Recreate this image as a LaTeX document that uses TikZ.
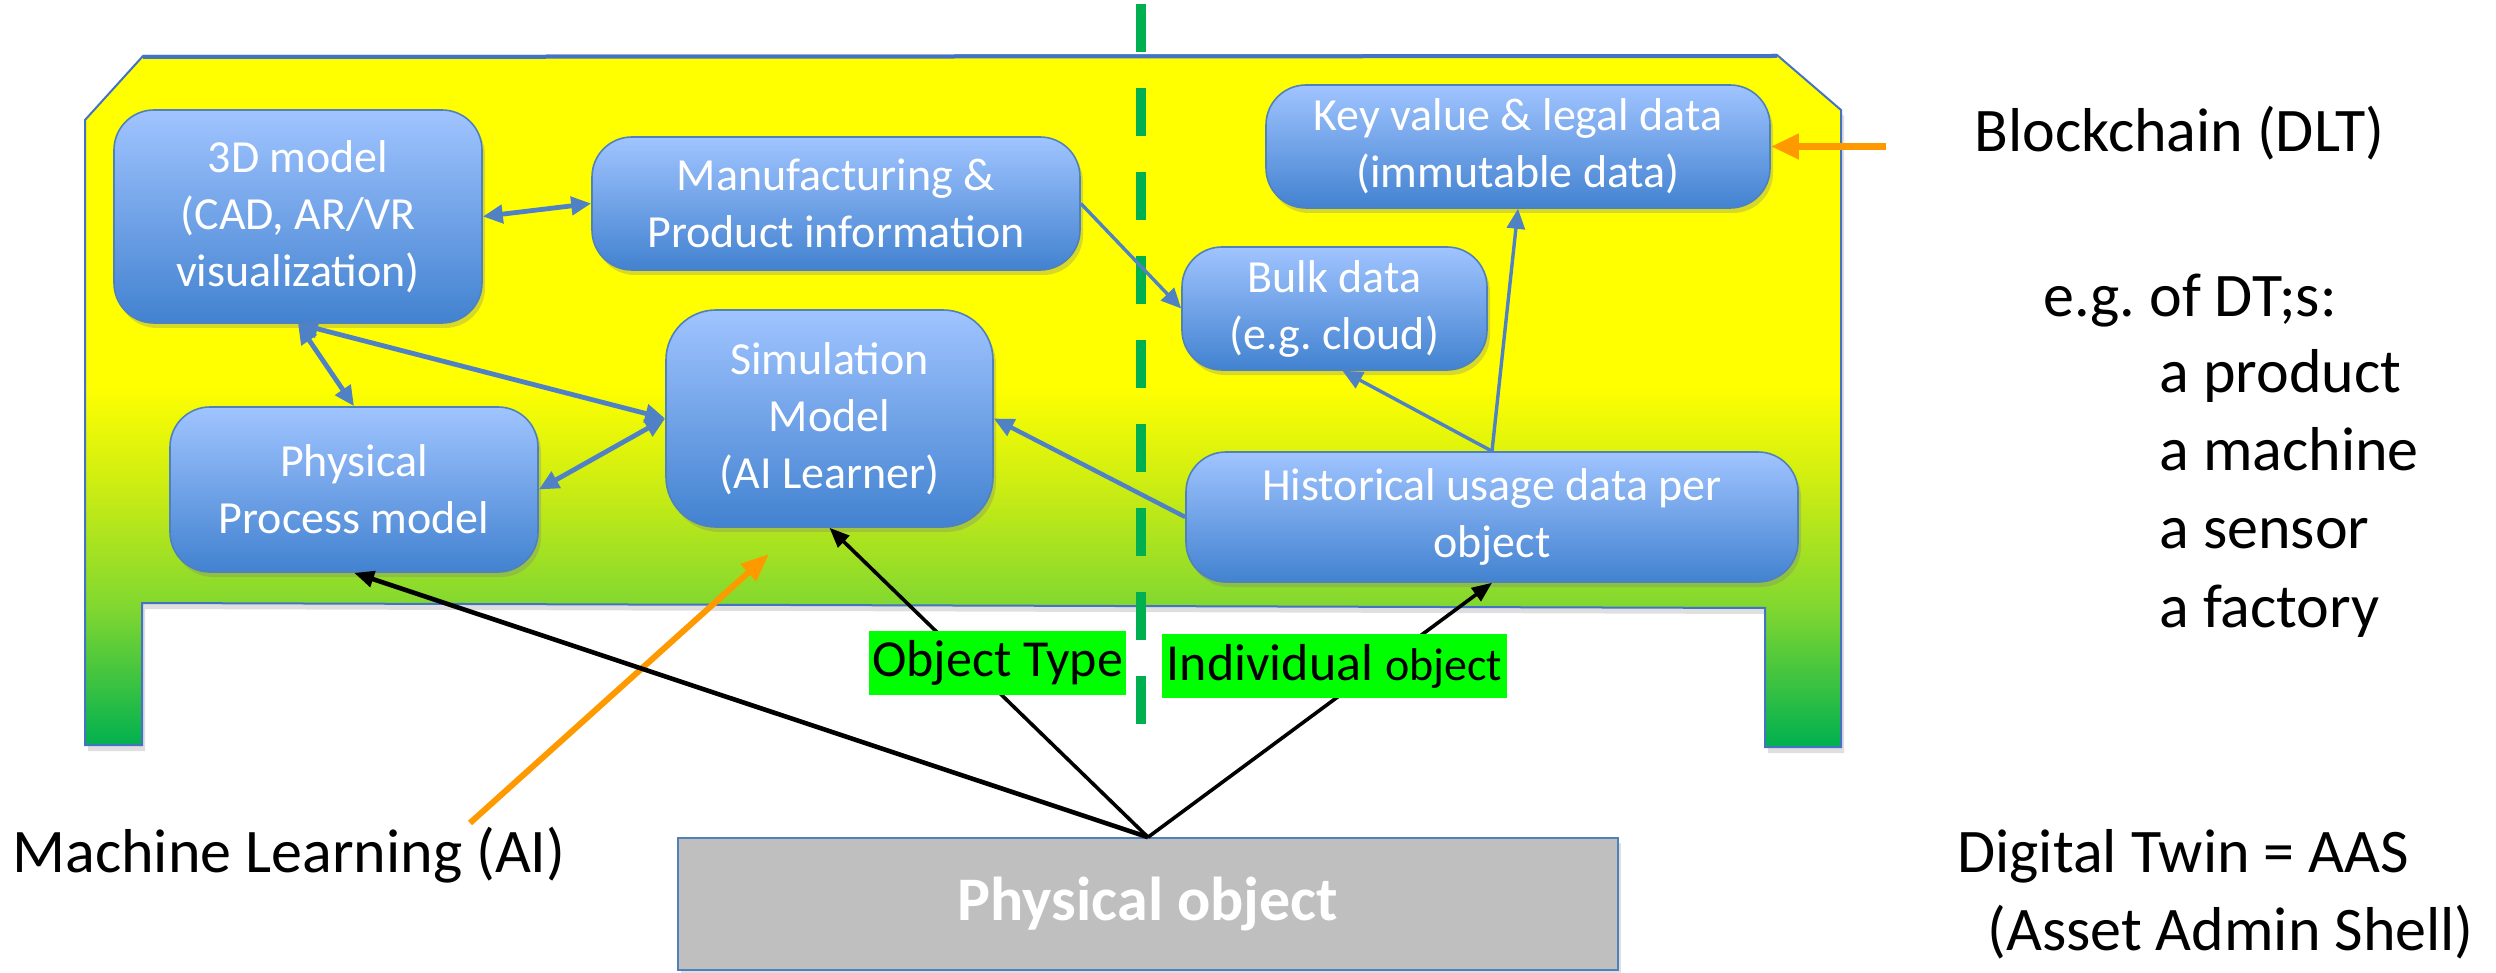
\documentclass[tikz,border=0pt]{standalone}
\usepackage{fontspec}
\setmainfont{Carlito}
\usetikzlibrary{arrows.meta,shadows}
\frenchspacing

\definecolor{boxline}{RGB}{79,129,189}
\definecolor{arrowblue}{RGB}{79,129,196}
\definecolor{boxtop}{RGB}{160,196,255}
\definecolor{boxbot}{RGB}{66,130,208}
\definecolor{dtgreen}{RGB}{0,176,80}
\definecolor{dtmid}{RGB}{128,215,48}
\definecolor{dtlime}{RGB}{205,237,18}
\definecolor{dtyellow}{RGB}{255,255,0}
\definecolor{hlgreen}{RGB}{0,255,0}
\definecolor{mlorange}{RGB}{255,153,0}
\definecolor{objgray}{RGB}{191,191,191}
\definecolor{shapeline}{RGB}{68,114,196}

% background of the twin: yellow on top fading to green at the legs
\pgfdeclareverticalshading{twinbg}{100bp}{color(0bp)=(dtgreen); color(25bp)=(dtgreen); color(35bp)=(dtmid); color(44bp)=(dtlime); color(51bp)=(dtyellow); color(100bp)=(dtyellow)}

\tikzset{
  dtbox/.style={rectangle, rounded corners=20pt, draw=boxline, line width=0.8pt,
    top color=boxtop, bottom color=boxbot, text=white, align=center, inner sep=0pt,
    font=\fontsize{23}{28.5}\selectfont,
    drop shadow={shadow xshift=1.5pt, shadow yshift=-2.5pt, opacity=0.3}},
  blink/.style={draw=arrowblue, line width=1.7pt, -{Triangle[length=10pt,width=9pt]}},
  bilink/.style={draw=arrowblue, line width=2.4pt, {Triangle[length=10pt,width=9pt]}-{Triangle[length=10pt,width=9pt]}},
  blk/.style={draw=black, line width=1.8pt, -{Triangle[length=10pt,width=8pt]}},
  tag/.style={fill=hlgreen, text=black, inner sep=0pt, font=\fontsize{26}{30}\selectfont},
  plain/.style={font=\fontsize{31}{36}\selectfont, inner sep=0pt, anchor=base west},
}

\begin{document}
\begin{tikzpicture}[x=0.5pt,y=-0.5pt]
\useasboundingbox (0,0) rectangle (2496,973);

% outline of the digital twin shell
\path[shading=twinbg, draw=shapeline, line width=1pt,
      drop shadow={shadow xshift=1.5pt, shadow yshift=-3pt, opacity=0.25}]
  (143,56) -- (1777,55) -- (1841,110) -- (1841,747) -- (1765,747) -- (1765,608)
  -- (142,603) -- (142,745) -- (85,745) -- (85,120) -- cycle;
\draw[shapeline, line width=2pt] (143,57) -- (1777,56);

% type / instance divider
\coordinate (dtop) at (1141,4);
\coordinate (dbot) at (1141,724);
\draw[dtgreen, line width=5pt, dash pattern=on 24pt off 18pt] (dtop) -- (dbot);

% model blocks
\node[dtbox, minimum width=184pt, minimum height=106.5pt] (m3d) at (298,216.5)
  {3D model\\(CAD, AR/VR\\visualization)};
\node[dtbox, minimum width=244pt, minimum height=66.5pt] (manu) at (836,203.5)
  {Manufacturing \&\\Product information};
\node[dtbox, rounded corners=25pt, minimum width=163.5pt, minimum height=108.5pt] (sim) at (829.5,418.5)
  {Simulation\\Model\\(AI Learner)};
\node[dtbox, minimum width=184pt, minimum height=82.5pt] (proc) at (354,489.5)
  {Physical\\Process model};
\node[dtbox, minimum width=252pt, minimum height=61.5pt] (key) at (1518,146.5)
  {Key value \& legal data\\(immutable data)};
\node[dtbox, minimum width=152.5pt, minimum height=61.5pt] (bulk) at (1334.5,308.5)
  {Bulk data\\(e.g. cloud)};
\node[dtbox, minimum width=306pt, minimum height=65pt] (hist) at (1492,517)
  {Historical usage data per\\object};

% the real asset
\node[rectangle, fill=objgray, draw=boxline, line width=0.8pt, minimum width=470pt, minimum height=66pt,
      text=white, font=\fontsize{31}{36}\selectfont\bfseries,
      drop shadow={shadow xshift=1.5pt, shadow yshift=-2.5pt, opacity=0.25}] (phys) at (1148,904)
  {Physical object};

% links between the models
\draw[bilink] (m3d.east) -- (manu.west);
\draw[blink] (manu.east) -- (bulk.west);
\draw[bilink] (m3d.south) -- (proc.north);
\draw[bilink] (m3d.south) -- (sim.west);
\draw[bilink] (sim.west) -- (proc.east);
\draw[blink, line width=2.2pt] (hist.west) -- (sim.east);
\draw[blink] (hist.north) -- ([xshift=4pt]bulk.south);
\draw[blink] (hist.north) -- (key.south);

% side annotations
\coordinate (bcstart) at (1886,146.5);
\draw[draw=mlorange, line width=3.8pt, -{Triangle[length=14pt,width=12pt]}] (bcstart) -- (key.east);
\coordinate (mlstart) at (470,823);
\coordinate (mlend) at (769,554);
\draw[draw=mlorange, line width=3pt, -{Triangle[length=14pt,width=11pt]}] (mlstart) -- (mlend);

% from the physical object up into the twin
\draw[blk, line width=2.3pt] (phys.north) -- (proc.south);
\draw[blk] (phys.north) -- (sim.south);
\draw[blk] (phys.north) -- (hist.south);

\node[tag, minimum width=128.5pt, minimum height=32pt] (otype) at (997.5,663) {Object Type};
\node[tag, minimum width=172.5pt, minimum height=32pt] (indiv) at (1334.5,666)
  {Individual {\fontsize{23}{28}\selectfont object}};

% texts on the right and left
\node[plain] (bc) at (1974,152) {Blockchain (DLT)};
\node[plain] (eg) at (2043,317) {e.g. of DT;s:};
\node[plain] (e1) at (2159,393) {a product};
\node[plain] (e2) at (2159,470) {a machine};
\node[plain] (e3) at (2159,548) {a sensor};
\node[plain] (e4) at (2159,627) {a factory};
\node[plain] (dt) at (1957,872) {Digital Twin = AAS};
\node[plain] (aas) at (1987,950) {(Asset Admin Shell)};
\node[plain] (ml) at (12,872) {Machine Learning (AI)};
\end{tikzpicture}
\end{document}
